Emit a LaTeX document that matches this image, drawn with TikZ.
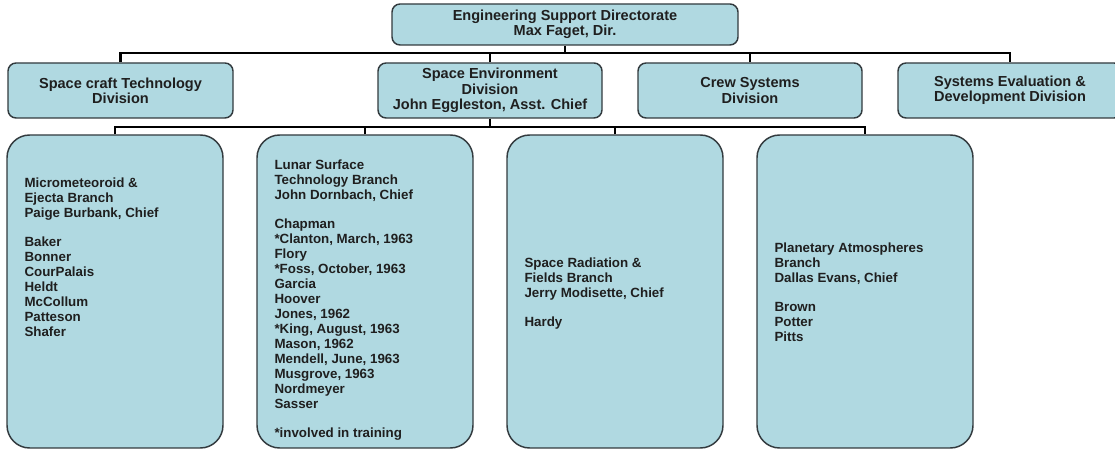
\documentclass[tikz,border=0pt]{standalone}
\usepackage{fontspec}
\setmainfont{Liberation Sans}
\usetikzlibrary{calc}
\definecolor{boxfill}{RGB}{176,217,225}
\definecolor{boxline}{RGB}{50,58,62}
\begin{document}
\begin{tikzpicture}[x=0.75pt,y=-0.75pt,
  every node/.style={text=black!88},
  hbox/.style={draw=boxline, line width=1.1pt, fill=boxfill, rounded corners=6pt, inner sep=0pt, align=center,
    font=\bfseries\fontsize{10.9}{11.5}\selectfont},
  bigbox/.style={draw=boxline, line width=1.1pt, fill=boxfill, rounded corners=17pt, inner sep=0pt, minimum width=162pt, minimum height=234.75pt},
  btext/.style={align=left, inner sep=0pt, anchor=north west, font=\bfseries\fontsize{10}{11.2}\selectfont},
  conn/.style={draw=black, line width=2pt}]
\useasboundingbox (0,0) rectangle (1115,452);

% top
\node[hbox, minimum width=259.5pt, minimum height=30.75pt] (top) at (565,24.5) {Engineering Support Directorate\\Max Faget, Dir.};

% divisions
\node[hbox, minimum width=168.75pt, minimum height=41.25pt] (d1) at (120.5,90.5) {Space craft Technology\\Division};
\node[hbox, minimum width=168pt, minimum height=41.25pt] (d2) at (490,90.5) {Space Environment\\Division\\John Eggleston, Asst. Chief};
\node[hbox, minimum width=168pt, minimum height=41.25pt] (d3) at (750,90.5) {Crew Systems\\Division};
\node[hbox, minimum width=168pt, minimum height=41.25pt] (d4) at (1010,90.5) {Systems Evaluation \&\\Development Division};

% branches
\node[bigbox] (b1) at (115,291.5) {};
\node[bigbox] (b2) at (365,291.5) {};
\node[bigbox] (b3) at (615,291.5) {};
\node[bigbox] (b4) at (865,291.5) {};

\node[btext] (t1) at ($(b1.north west)+(18,43)$) {Micrometeoroid \&\\Ejecta Branch\\Paige Burbank, Chief\\[\baselineskip]Baker\\Bonner\\CourPalais\\Heldt\\McCollum\\Patteson\\Shafer};
\node[btext] (t2) at ($(b2.north west)+(18,25)$) {Lunar Surface\\Technology Branch\\John Dornbach, Chief\\[\baselineskip]Chapman\\*Clanton, March, 1963\\Flory\\*Foss, October, 1963\\Garcia\\Hoover\\Jones, 1962\\*King, August, 1963\\Mason, 1962\\Mendell, June, 1963\\Musgrove, 1963\\Nordmeyer\\Sasser\\[\baselineskip]*involved in training};
\node[btext] (t3) at ($(b3.north west)+(18,123)$) {Space Radiation \&\\Fields Branch\\Jerry Modisette, Chief\\[\baselineskip]Hardy};
\node[btext] (t4) at ($(b4.north west)+(18,108)$) {Planetary Atmospheres\\Branch\\Dallas Evans, Chief\\[\baselineskip]Brown\\Potter\\Pitts};

% connectors
\coordinate (j1) at (565,53);
\coordinate (j2) at (490,127);
\draw[conn] (top.south) -- (j1);
\draw[conn] (d1.north) -- (d1.north |- j1) -- (d4.north |- j1) -- (d4.north);
\draw[conn] (d2.north) -- (d2.north |- j1);
\draw[conn] (d3.north) -- (d3.north |- j1);
\draw[conn] (d2.south) -- (j2);
\draw[conn] (b1.north) -- (b1.north |- j2) -- (b4.north |- j2) -- (b4.north);
\draw[conn] (b2.north) -- (b2.north |- j2);
\draw[conn] (b3.north) -- (b3.north |- j2);
\end{tikzpicture}
\end{document}
